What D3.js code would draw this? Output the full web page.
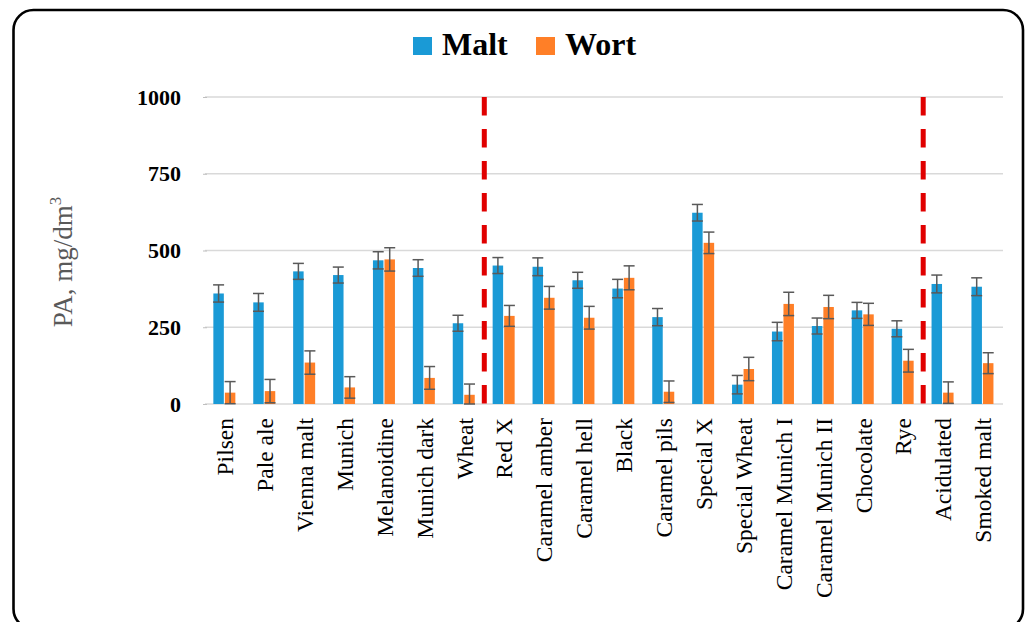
<!DOCTYPE html>
<html>
<head>
<meta charset="utf-8">
<script src="https://cdn.jsdelivr.net/npm/d3@7"></script>
<style>
  html, body { margin: 0; padding: 0; background: #fff; }
  svg { display: block; }
</style>
</head>
<body>
<svg id="chart" width="1032" height="622"></svg>
<script>
// Malt types, grouped into base malts | caramel / roasted malts | special malts
const categories = [
  "Pilsen", "Pale ale", "Vienna malt", "Munich", "Melanoidine", "Munich dark", "Wheat",
  "Red X", "Caramel amber", "Caramel hell", "Black", "Caramel pils", "Special X",
  "Special Wheat", "Caramel Munich I", "Caramel Munich II", "Chocolate", "Rye",
  "Acidulated", "Smoked malt"
];
const series = ["Malt", "Wort"];

// PA content, mg/dm3
const maltValues = [360, 331, 432, 420, 468, 443, 263, 451, 447, 403, 376, 283, 623, 63, 236, 254, 305, 245, 391, 382];
const wortValues = [37, 42, 135, 54, 471, 85, 30, 287, 346, 281, 411, 40, 525, 114, 326, 316, 292, 141, 37, 133];

// standard deviations
const maltErrors = [28, 29, 26, 26, 28, 27, 26, 26, 29, 26, 30, 28, 27, 30, 30, 26, 26, 26, 29, 29];
const wortErrors = [36, 38, 38, 35, 38, 37, 35, 34, 37, 37, 39, 35, 35, 38, 38, 38, 36, 37, 35, 34];

const yTicks = [0, 250, 500, 750, 1000];
// group separators sit after these categories
const separatorsAfter = ["Wheat", "Rye"];

const colors = { Malt: "#1a9ad6", Wort: "#ff7f27" };

const svg = d3.select("#chart");

// outer frame
svg.append("rect")
  .attr("x", 13.5).attr("y", 10)
  .attr("width", 1009.5).attr("height", 619)
  .attr("rx", 20).attr("ry", 20)
  .attr("fill", "none").attr("stroke", "#000").attr("stroke-width", 2.6);

const x0 = d3.scaleBand().domain(categories).range([205, 1003]).paddingInner(0).paddingOuter(0);
const y = d3.scaleLinear().domain([0, 1000]).range([404, 97]);
const x1 = d3.scaleBand().domain(series).range([-11.6, 10.4]).paddingInner(0.09);

// gridlines
svg.append("g")
  .selectAll("line")
  .data(yTicks)
  .join("line")
  .attr("x1", 205).attr("x2", 1003)
  .attr("y1", d => y(d)).attr("y2", d => y(d))
  .attr("stroke", "#d9d9d9").attr("stroke-width", 1.5);

// y axis
const yAxis = svg.append("g")
  .attr("transform", "translate(207,0)")
  .call(d3.axisLeft(y).tickValues(yTicks).tickSize(4).tickPadding(22).tickFormat(d3.format("d")));
yAxis.select(".domain").remove();
yAxis.selectAll(".tick line").attr("stroke", "#bfbfbf");
yAxis.selectAll(".tick text")
  .attr("font-family", "'Liberation Serif', 'Times New Roman', serif")
  .attr("font-weight", "bold")
  .attr("font-size", 22)
  .attr("fill", "#000");

// y axis title
const yTitle = svg.append("text")
  .attr("transform", "translate(72,262) rotate(-90)")
  .attr("text-anchor", "middle")
  .attr("font-family", "'Liberation Serif', 'Times New Roman', serif")
  .attr("font-size", 27)
  .attr("fill", "#595959");
yTitle.append("tspan").text("PA, mg/dm");
yTitle.append("tspan").attr("font-size", 17).attr("dy", -11).text("3");

// x axis labels
const xAxis = svg.append("g")
  .attr("transform", "translate(0,404)")
  .call(d3.axisBottom(x0).tickSize(0).tickPadding(0));
xAxis.select(".domain").remove();
xAxis.selectAll(".tick text")
  .attr("transform", "translate(0,14) rotate(-90)")
  .attr("text-anchor", "end")
  .attr("dy", "0.35em")
  .attr("x", 0).attr("y", 0)
  .attr("font-family", "'Liberation Serif', 'Times New Roman', serif")
  .attr("font-size", 23.5)
  .attr("fill", "#000");

// bars
const rows = categories.map((c, i) => ({
  category: c,
  items: [
    { key: "Malt", value: maltValues[i], err: maltErrors[i] },
    { key: "Wort", value: wortValues[i], err: wortErrors[i] }
  ]
}));

const groups = svg.append("g")
  .selectAll("g")
  .data(rows)
  .join("g")
  .attr("transform", d => `translate(${x0(d.category) + x0.bandwidth() / 2},0)`);

groups.selectAll("rect")
  .data(d => d.items)
  .join("rect")
  .attr("x", d => x1(d.key))
  .attr("width", x1.bandwidth())
  .attr("y", d => y(d.value))
  .attr("height", d => y(0) - y(d.value))
  .attr("fill", d => colors[d.key]);

// error bars
const eb = groups.selectAll("g.err")
  .data(d => d.items)
  .join("g")
  .attr("class", "err")
  .attr("stroke", "#595959")
  .attr("stroke-width", 1.5)
  .attr("transform", d => `translate(${x1(d.key) + x1.bandwidth() / 2},0)`);
eb.append("line")
  .attr("x1", 0).attr("x2", 0)
  .attr("y1", d => y(Math.max(0, d.value - d.err)))
  .attr("y2", d => y(d.value + d.err));
eb.append("line")
  .attr("x1", -5.5).attr("x2", 5.5)
  .attr("y1", d => y(d.value + d.err)).attr("y2", d => y(d.value + d.err));
eb.append("line")
  .attr("x1", -5.5).attr("x2", 5.5)
  .attr("y1", d => y(Math.max(0, d.value - d.err))).attr("y2", d => y(Math.max(0, d.value - d.err)));

// group separators
svg.append("g")
  .selectAll("line")
  .data(separatorsAfter)
  .join("line")
  .attr("x1", d => x0(d) + x0.bandwidth()).attr("x2", d => x0(d) + x0.bandwidth())
  .attr("y1", y(1000)).attr("y2", y(0))
  .attr("stroke", "#e00000")
  .attr("stroke-width", 5)
  .attr("stroke-dasharray", "18.5 13.5");

// legend
const legend = svg.append("g")
  .selectAll("g")
  .data([{ key: "Malt", x: 413 }, { key: "Wort", x: 536 }])
  .join("g")
  .attr("transform", d => `translate(${d.x},37)`);
legend.append("rect")
  .attr("width", 19).attr("height", 18)
  .attr("fill", d => colors[d.key]);
legend.append("text")
  .attr("x", 29).attr("y", 18)
  .attr("font-family", "'Liberation Serif', 'Times New Roman', serif")
  .attr("font-weight", "bold")
  .attr("font-size", 32)
  .attr("fill", "#000")
  .text(d => d.key);
</script>
</body>
</html>
